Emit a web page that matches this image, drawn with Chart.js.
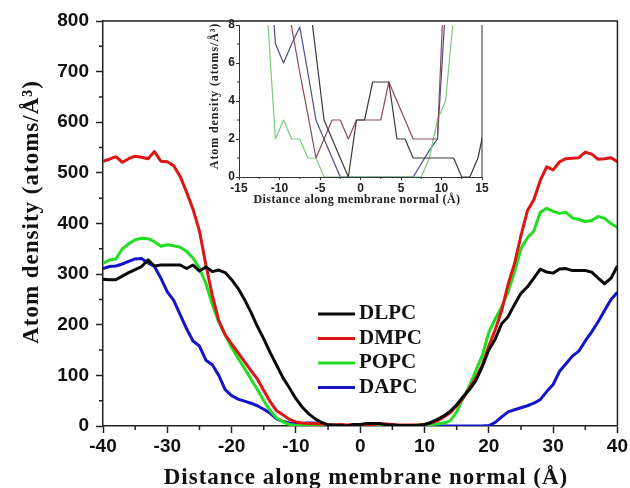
<!DOCTYPE html>
<html lang="en">
<head>
<meta charset="UTF-8">
<title>Atom density along membrane normal</title>
<style>
  body { margin: 0; background: #fff; }
  #wrap { position: relative; width: 630px; height: 488px; }
  #wrap canvas { position: absolute; }
  #mainChart { left: 0; top: 0; }
  #insetChart { left: 190px; top: 15px; }
</style>
</head>
<body>
<div id="wrap">
  <canvas id="mainChart" width="630" height="488"></canvas>
  <canvas id="insetChart" width="305" height="195"></canvas>
</div>

<script src="https://cdn.jsdelivr.net/npm/chart.js@4.4.0/dist/chart.umd.min.js"></script>
<script>
// distance along the membrane normal (Å), full profile
var distance = [
  -40, -39, -38, -37, -36, -35, -34, -33, -32, -31,
  -30, -29, -28, -27, -26, -25, -24, -23, -22, -21,
  -20, -19, -18, -17, -16, -15, -14, -13, -12, -11,
  -10, -9, -8, -7, -6, -5, -4, -3, -2, -1,
  0, 1, 2, 3, 4, 5, 6, 7, 8, 9,
  10, 11, 12, 13, 14, 15, 16, 17, 18, 19,
  20, 21, 22, 23, 24, 25, 26, 27, 28, 29,
  30, 31, 32, 33, 34, 35, 36, 37, 38, 39,
  40
];

// atom density (atoms/Å³) for each lipid
var dlpc = [
  290, 289, 289, 296, 303, 309, 315, 328, 316, 318,
  318, 318, 318, 311, 318, 306, 314, 305, 308, 303,
  289, 272, 250, 225, 197, 172, 145, 120, 95, 75,
  54, 37, 24, 14, 7, 2, 2, 1, 0, 3,
  3, 5, 5, 5, 2, 2, 1, 1, 1, 1,
  3, 7, 13, 20, 29, 42, 58, 72, 90, 118,
  150, 172, 202, 216, 240, 262, 275, 292, 310, 304,
  302, 310, 311, 307, 307, 307, 304, 292, 281, 292,
  316
];
var dmpc = [
  523, 527, 532, 521, 528, 533, 531, 528, 542, 523,
  522, 514, 493, 462, 428, 385, 318, 258, 208, 180,
  162, 145, 127, 110, 93, 70, 48, 30, 22, 13,
  8, 6, 5, 5, 4, 3, 2, 3, 2, 3,
  3, 3, 3, 5, 4, 3, 2, 2, 2, 2,
  3, 6, 10, 18, 26, 40, 55, 75, 95, 121,
  158, 190, 228, 280, 321, 376, 425, 447, 485, 512,
  506, 522, 528, 529, 530, 541, 537, 527, 528, 530,
  522
];
var popc = [
  321, 328, 330, 350, 360, 368, 371, 370, 364, 355,
  358, 356, 353, 345, 332, 311, 282, 240, 206, 180,
  155, 134, 114, 93, 72, 50, 30, 16, 8, 3,
  1, 2, 2, 1, 1, 0, 0, 0, 0, 0,
  0, 0, 0, 0, 0, 0, 0, 0, 1, 2,
  2, 3, 4, 6, 10, 28, 55, 80, 110, 140,
  185, 212, 235, 265, 305, 350, 372, 385, 422, 430,
  424, 420, 422, 411, 408, 404, 406, 414, 410, 400,
  392
];
var dapc = [
  311, 315, 316, 320, 325, 330, 331, 322, 315, 292,
  265, 248, 220, 192, 168, 158, 130, 121, 100, 72,
  60, 53, 49, 45, 40, 33, 25, 14, 9, 6,
  5, 5, 6, 6, 4, 1, 0, 0, 0, 0,
  0, 0, 0, 0, 0, 0, 0, 0, 0, 0,
  0, 0, 0, 0, 0, 0, 0, 0, 0, 0,
  1, 7, 18, 28, 32, 36, 40, 45, 52, 68,
  82, 108, 123, 138, 148, 168, 186, 206, 228, 250,
  264
];

// close-up of the bilayer centre
var insetDistance = [
  -15.5, -14.5, -13.5, -12.5, -11.5, -10.5, -9.5, -8.5, -7.5, -6.5,
  -5.5, -4.5, -3.5, -2.5, -1.5, -0.5, 0.5, 1.5, 2.5, 3.5,
  4.5, 5.5, 6.5, 7.5, 8.5, 9.5, 10.5, 11.5, 12.5, 13.5,
  14.5, 15.5
];
var insetDlpc = [
  40, 36, 30, 25, 20, 17, 15, 13, 12, 10,
  6.5, 3, 2, 1, 0, 3, 3, 5, 5, 5,
  2, 2, 1, 1, 1, 1, 1, 1, 0, 0,
  1, 3
];
var insetDmpc = [
  40, 35, 30, 25, 20, 16, 11, 7.9, 5.5, 3.3,
  1, 2, 3, 3, 2, 3, 3, 3, 3, 5,
  4, 3, 2, 2, 2, 2, 12, 20, 25, 30,
  35, 40
];
var insetPopc = [
  40, 35, 30, 20, 8.5, 2, 3, 2, 2, 1,
  1, 0, 0, 0, 0, 0, 0, 0, 0, 0,
  0, 0, 0, 0, 1, 3, 4, 8.5, 20, 30,
  35, 40
];
var insetDapc = [
  40, 30, 25, 20, 13, 7, 6, 7, 7.9, 5.5,
  3, 2, 1, 0, 0, 0, 0, 0, 0, 0,
  0, 0, 0, 0.7, 1.4, 2, 9, 18, 25, 30,
  35, 40
];

var lipids = ['DLPC', 'DMPC', 'POPC', 'DAPC'];

// minor tick positions (no labels)
var xMinor = [-35, -25, -15, -5, 5, 15, 25, 35];
var yMinor = [50, 150, 250, 350, 450, 550, 650, 750];
var insetXMinor = [-12.5, -7.5, -2.5, 2.5, 7.5, 12.5];
var insetYMinor = [1, 3, 5, 7];

var SERIF = '"Liberation Serif", "Times New Roman", serif';
var SANS = '"Liberation Sans", Arial, sans-serif';

function points(xs, ys) {
    return xs.map(function (x, i) { return { x: x, y: ys[i] }; });
}

function lineSet(label, xs, ys, color, width) {
    return {
        label: label,
        data: points(xs, ys),
        borderColor: color,
        borderWidth: width,
        pointRadius: 0,
        tension: 0,
        borderJoinStyle: 'round'
    };
}

// box, minor ticks, legend and axis titles for the main plot
var mainDecor = {
    id: 'mainDecor',
    afterDraw: function (chart) {
        var ctx = chart.ctx, a = chart.chartArea;
        var x = chart.scales.x, y = chart.scales.y;
        ctx.save();
        ctx.strokeStyle = '#222';
        ctx.lineWidth = 1.5;
        ctx.beginPath();
        ctx.moveTo(a.left, a.top);
        ctx.lineTo(a.right, a.top);
        ctx.lineTo(a.right, a.bottom);
        xMinor.forEach(function (v) {
            var p = x.getPixelForValue(v);
            ctx.moveTo(p, a.bottom);
            ctx.lineTo(p, a.bottom + 4);
        });
        yMinor.forEach(function (v) {
            var p = y.getPixelForValue(v);
            ctx.moveTo(a.left, p);
            ctx.lineTo(a.left - 4, p);
        });
        ctx.stroke();

        // legend
        ctx.font = 'bold 21px ' + SERIF;
        ctx.textBaseline = 'middle';
        ctx.textAlign = 'left';
        chart.data.datasets.forEach(function (ds, i) {
            var ly = 314 + i * 24.5;
            ctx.strokeStyle = ds.borderColor;
            ctx.lineWidth = 3;
            ctx.beginPath();
            ctx.moveTo(318, ly);
            ctx.lineTo(355, ly);
            ctx.stroke();
            ctx.fillStyle = '#111';
            ctx.fillText(ds.label, 359, ly);
        });

        // axis titles
        ctx.fillStyle = '#111';
        ctx.font = 'bold 23px ' + SERIF;
        ctx.letterSpacing = '1px';
        ctx.textAlign = 'center';
        ctx.textBaseline = 'alphabetic';
        ctx.fillText('Distance along membrane normal (Å)', 366, 484);
        ctx.translate(38, 212);
        ctx.rotate(-Math.PI / 2);
        ctx.fillText('Atom density (atoms/Å³)', 0, 0);
        ctx.restore();
    }
};

var insetDecor = {
    id: 'insetDecor',
    afterDraw: function (chart) {
        var ctx = chart.ctx, a = chart.chartArea;
        var x = chart.scales.x, y = chart.scales.y;
        ctx.save();
        ctx.strokeStyle = '#333';
        ctx.lineWidth = 1;
        ctx.beginPath();
        ctx.moveTo(a.right, a.top);
        ctx.lineTo(a.right, a.bottom);
        insetXMinor.forEach(function (v) {
            var p = x.getPixelForValue(v);
            ctx.moveTo(p, a.bottom);
            ctx.lineTo(p, a.bottom + 2);
        });
        insetYMinor.forEach(function (v) {
            var p = y.getPixelForValue(v);
            ctx.moveTo(a.left, p);
            ctx.lineTo(a.left - 2, p);
        });
        ctx.stroke();

        ctx.fillStyle = '#222';
        ctx.font = 'bold 12px ' + SERIF;
        ctx.letterSpacing = '0.4px';
        ctx.textAlign = 'center';
        ctx.textBaseline = 'alphabetic';
        ctx.fillText('Distance along membrane normal (Å)', 167, 188);
        ctx.translate(28, 81);
        ctx.rotate(-Math.PI / 2);
        ctx.letterSpacing = '0.9px';
        ctx.fillText('Atom density (atoms/Å³)', 0, 0);
        ctx.restore();
    }
};

function createMainChart() {
    var ctx = document.getElementById('mainChart').getContext('2d');
    return new Chart(ctx, {
        type: 'line',
        data: {
            datasets: [
                lineSet(lipids[0], distance, dlpc, '#0a0a0a', 3),
                lineSet(lipids[1], distance, dmpc, '#dd1515', 3),
                lineSet(lipids[2], distance, popc, '#22dd22', 3),
                lineSet(lipids[3], distance, dapc, '#1414c8', 3)
            ]
        },
        options: {
            responsive: false,
            animation: false,
            events: [],
            layout: { padding: { top: 21, right: 10, left: 0, bottom: 0 } },
            plugins: { legend: { display: false }, tooltip: { enabled: false } },
            scales: {
                x: {
                    type: 'linear', min: -40, max: 40,
                    afterFit: function (s) { s.height = 62; },
                    ticks: { stepSize: 10, padding: 2, color: '#111',
                             font: { family: SANS, size: 19, weight: 'bold' } },
                    grid: { drawOnChartArea: false, tickLength: 7, tickWidth: 1.5, tickColor: '#222' },
                    border: { color: '#222', width: 1.5 }
                },
                y: {
                    type: 'linear', min: 0, max: 800,
                    afterFit: function (s) { s.width = 103; },
                    ticks: { stepSize: 100, padding: 7, color: '#111',
                             font: { family: SANS, size: 19, weight: 'bold' } },
                    grid: { drawOnChartArea: false, tickLength: 7, tickWidth: 1.5, tickColor: '#222' },
                    border: { color: '#222', width: 1.5 }
                }
            }
        },
        plugins: [mainDecor]
    });
}

function createInsetChart() {
    var ctx = document.getElementById('insetChart').getContext('2d');
    return new Chart(ctx, {
        type: 'line',
        data: {
            datasets: [
                lineSet(lipids[0], insetDistance, insetDlpc, '#3a3a3a', 1.2),
                lineSet(lipids[1], insetDistance, insetDmpc, '#8c4a58', 1.2),
                lineSet(lipids[2], insetDistance, insetPopc, '#7acb7a', 1.2),
                lineSet(lipids[3], insetDistance, insetDapc, '#4c4c88', 1.2)
            ]
        },
        options: {
            responsive: false,
            animation: false,
            events: [],
            layout: { padding: { top: 10, right: 13, left: 0, bottom: 0 } },
            plugins: { legend: { display: false }, tooltip: { enabled: false } },
            scales: {
                x: {
                    type: 'linear', min: -15, max: 15,
                    afterFit: function (s) { s.height = 33; },
                    ticks: { stepSize: 5, padding: 1, color: '#222',
                             font: { family: SANS, size: 12, weight: 'bold' } },
                    grid: { drawOnChartArea: false, tickLength: 3, tickWidth: 1, tickColor: '#333' },
                    border: { color: '#333', width: 1 }
                },
                y: {
                    type: 'linear', min: 0, max: 8,
                    afterFit: function (s) { s.width = 49; },
                    ticks: { stepSize: 2, padding: 1, color: '#222',
                             font: { family: SANS, size: 12, weight: 'bold' } },
                    grid: { drawOnChartArea: false, tickLength: 3, tickWidth: 1, tickColor: '#333' },
                    border: { color: '#333', width: 1 }
                }
            }
        },
        plugins: [insetDecor]
    });
}

createMainChart();
createInsetChart();
</script>
</body>
</html>
